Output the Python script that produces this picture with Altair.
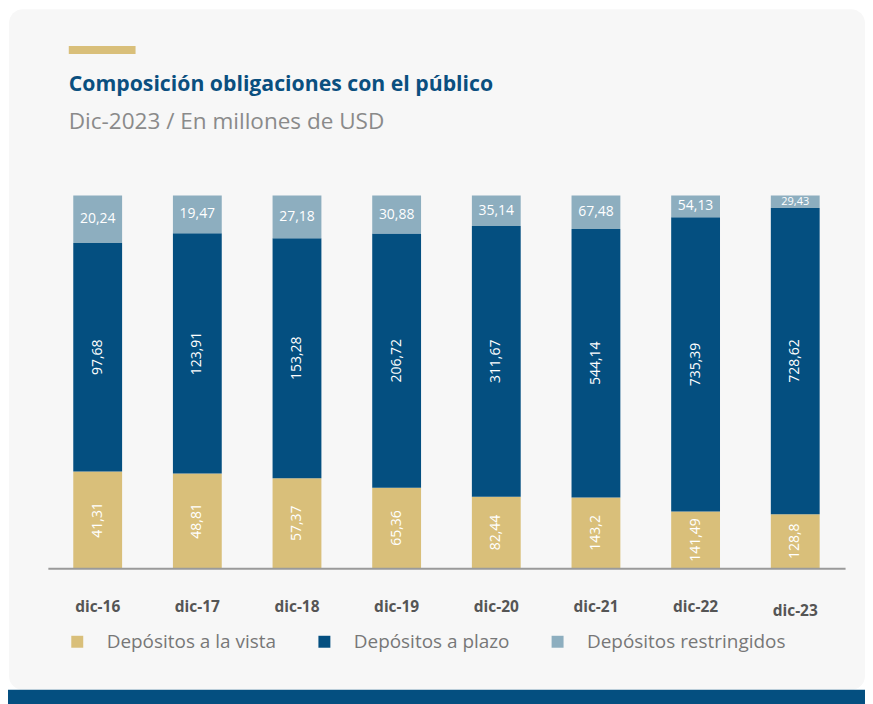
import altair as alt
import pandas as pd

years = ["dic-16", "dic-17", "dic-18", "dic-19", "dic-20", "dic-21", "dic-22", "dic-23"]
vista = [41.31, 48.81, 57.37, 65.36, 82.44, 143.2, 141.49, 128.8]
plazo = [97.68, 123.91, 153.28, 206.72, 311.67, 544.14, 735.39, 728.62]
restr = [20.24, 19.47, 27.18, 30.88, 35.14, 67.48, 54.13, 29.43]
series = ["Depósitos a la vista", "Depósitos a plazo", "Depósitos restringidos"]
colors = ["#d9bf7a", "#044f80", "#8daebf"]
title_text = "Composición obligaciones con el público"
subtitle_text = "Dic-2023 / En millones de USD"

rows = []
for i, y in enumerate(years):
    for k, (name, vals) in enumerate(zip(series, [vista, plazo, restr])):
        v = vals[i]
        rows.append({"year": y, "serie": name, "order": k, "value": v,
                     "label": str(v).replace(".", ",")})
df = pd.DataFrame(rows)

FONT = "Open Sans"

base = alt.Chart(df).transform_stack(
    stack="value", groupby=["year"], as_=["v0", "v1"], offset="normalize",
    sort=[alt.SortField("order", order="ascending")]
).transform_calculate(mid="(datum.v0 + datum.v1) / 2", frac="datum.v1 - datum.v0")

xenc = alt.X("year:N", sort=years, title=None,
             scale=alt.Scale(paddingInner=0.51, paddingOuter=0.255),
             axis=alt.Axis(labelAngle=0, ticks=False, domainColor="#9a9a9a", domainWidth=2,
                           labelFont=FONT, labelFontWeight="bold", labelFontSize=15.5,
                           labelColor="#555555",
                           labelPadding={"condition": {"test": "datum.value == 'dic-23'", "value": 35},
                                         "value": 31},
                           grid=False, zindex=1))
yscale = alt.Scale(domain=[0, 1])

bars = base.mark_bar().encode(
    x=xenc,
    y=alt.Y("v0:Q", scale=yscale, axis=None),
    y2="v1:Q",
    color=alt.Color("serie:N", scale=alt.Scale(domain=series, range=colors),
                    legend=alt.Legend(title=None, orient="none", legendX=20, legendY=438,
                                      direction="horizontal", symbolType="square",
                                      symbolSize=144, symbolStrokeWidth=0, labelFont=FONT,
                                      labelFontSize=19, labelColor="#777777", labelLimit=400,
                                      labelOffset=20, columnPadding=38)),
)

txt_rot = base.transform_filter("datum.order < 2").mark_text(
    angle=270, color="white", font=FONT, fontSize=14, baseline="middle", align="center"
).encode(
    x=alt.X("year:N", sort=years),
    y=alt.Y("mid:Q", scale=yscale),
    text="label:N",
)

txt_top = base.transform_filter("datum.order == 2").mark_text(
    color="white", font=FONT, baseline="middle", align="center"
).encode(
    x=alt.X("year:N", sort=years),
    y=alt.Y("mid:Q", scale=yscale),
    text="label:N",
    size=alt.condition("datum.frac < 0.045", alt.value(11), alt.value(14)),
)

one = pd.DataFrame({"a": [0]})
card = alt.Chart(one).mark_rect(color="#f7f7f7", cornerRadius=14).encode(
    x=alt.value(-39), x2=alt.value(820), y=alt.value(-187), y2=alt.value(496))
band = alt.Chart(one).mark_rect(color="#044f80").encode(
    x=alt.value(-40), x2=alt.value(830), y=alt.value(496), y2=alt.value(512))
gold = alt.Chart(one).mark_rect(color="#d9bf7a").encode(
    x=alt.value(21), x2=alt.value(88), y=alt.value(-150), y2=alt.value(-142))
title = alt.Chart(one).mark_text(
    text=title_text, font=FONT, fontSize=21.3, fontWeight="bold", color="#0a4f7f",
    align="left", baseline="alphabetic").encode(x=alt.value(21), y=alt.value(-105))
subtitle = alt.Chart(one).mark_text(
    text=subtitle_text, font=FONT, fontSize=22.6, color="#8a8a8a",
    align="left", baseline="alphabetic").encode(x=alt.value(21), y=alt.value(-67))

chart = alt.layer(card, band, gold, title, subtitle, bars, txt_rot, txt_top).properties(
    width=800, height=374,
    autosize=alt.AutoSizeParams(type="none"),
    padding={"left": 40, "top": 187, "right": 20, "bottom": 135},
).configure(background="white").configure_view(stroke=None)

chart.save("out.html", embed_options={"renderer": "svg", "actions": False})
